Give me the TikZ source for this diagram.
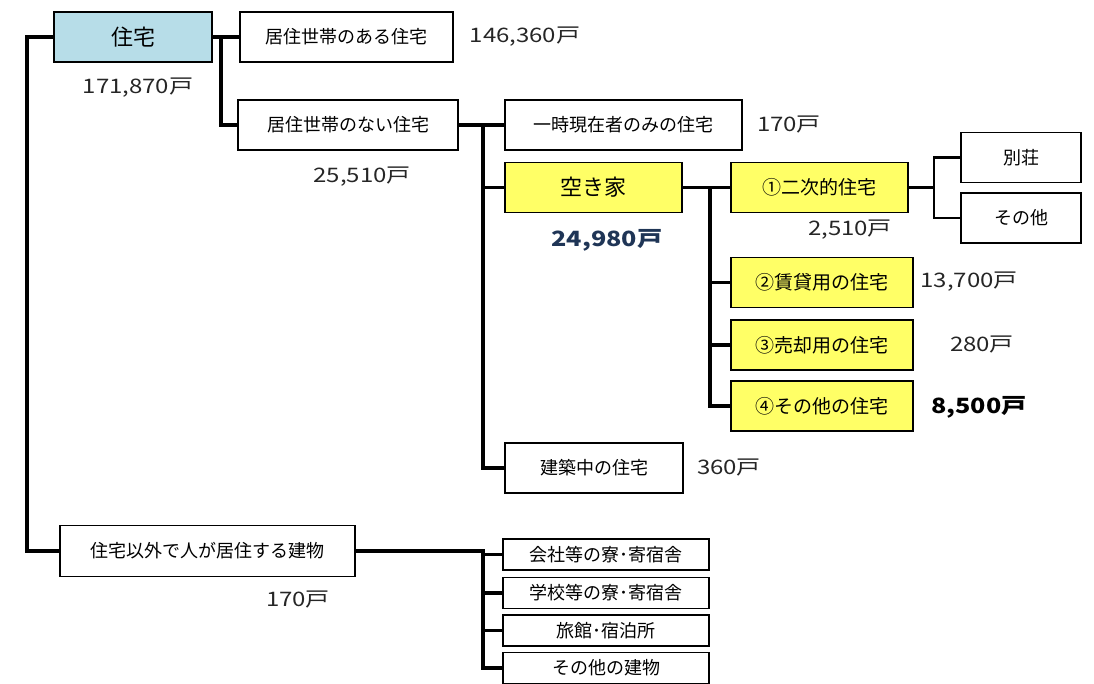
\documentclass[tikz,border=0pt]{standalone}
\usepackage{fontspec}
\setmainfont{Noto Sans CJK JP}
\newfontfamily\numfont[FakeStretch=1.2]{Noto Sans CJK JP}
\usetikzlibrary{positioning}

\definecolor{jutakublue}{HTML}{B7DDE8}
\definecolor{akiyellow}{HTML}{FFFF66}
\definecolor{akinavy}{HTML}{1F3556}

\tikzset{
  box/.style={draw, line width=1.8pt, minimum height=50pt, inner sep=0pt,
    font=\fontsize{18}{18}\selectfont},
  akibox/.style={box, fill=akiyellow, font=\fontsize{19}{19}\selectfont},
  smallbox/.style={box, minimum width=206pt, minimum height=31pt, font=\fontsize{18}{18}\selectfont},
  num/.style={inner sep=0pt, text=black!85, font=\numfont\fontsize{20}{20}\selectfont},
  boldnum/.style={num, font=\numfont\bfseries\fontsize{21}{21}\selectfont},
  trunk/.style={line width=3.6pt},
  twig/.style={line width=2.4pt}
}

\begin{document}
\begin{tikzpicture}[x=1pt,y=-1pt]
        \useasboundingbox (0,0) rectangle (1094,684);
        % houses
        \node [box, fill=jutakublue, minimum width=158pt, font=\fontsize{22}{22}\selectfont] (jutaku) at (133,37) {住宅};
        \node [num] (jutakuN) at (138,88) {171,870戸};
        \node [box, minimum width=213pt] (ari) at (346.5,37) {居住世帯のある住宅};
        \node [num] (ariN) at (525,37) {146,360戸};
        \node [box, minimum width=220pt] (nashi) at (348,125) {居住世帯のない住宅};
        \node [num] (nashiN) at (362,177) {25,510戸};
        \node [box, minimum width=237pt] (ichiji) at (623.5,125) {一時現在者のみの住宅};
        \node [num] (ichijiN) at (789,125) {170戸};
        % vacant houses
        \node [akibox, minimum width=177pt, font=\fontsize{22}{22}\selectfont] (akiya) at (593.5,187.5) {空き家};
        \node [boldnum, text=akinavy] (akiyaN) at (607,240) {24,980戸};
        \node [akibox, minimum width=177pt] (niji) at (819.5,187.5) {①二次的住宅};
        \node [num] (nijiN) at (850,230) {2,510戸};
        \node [box, minimum width=120pt] (bessou) at (1021,157.5) {別荘};
        \node [box, minimum width=120pt] (nijiSonota) at (1021,218) {その他};
        \node [akibox, minimum width=182pt] (chintai) at (822,282.5) {②賃貸用の住宅};
        \node [num] (chintaiN) at (969,282) {13,700戸};
        \node [akibox, minimum width=182pt] (baikyaku) at (822,345) {③売却用の住宅};
        \node [num] (baikyakuN) at (982,345) {280戸};
        \node [akibox, minimum width=182pt] (akiSonota) at (822,406) {④その他の住宅};
        \node [boldnum, text=black] (akiSonotaN) at (979,407) {8,500戸};
        \node [box, minimum width=178pt] (kenchiku) at (594,468) {建築中の住宅};
        \node [num] (kenchikuN) at (729,468) {360戸};
        % other buildings
        \node [box, minimum width=295pt, minimum height=51pt] (igai) at (207.5,551) {住宅以外で人が居住する建物};
        \node [num] (igaiN) at (298,600) {170戸};
        \node [smallbox] (kaisha) at (606,554.5) {会社等の寮･寄宿舎};
        \node [smallbox] (gakkou) at (606,593) {学校等の寮･寄宿舎};
        \node [smallbox] (ryokan) at (606,630.5) {旅館･宿泊所};
        \node [smallbox] (tatemono) at (606,668) {その他の建物};

        \begin{scope}[every path/.style={trunk}]
                \draw (jutaku.west) -- ++(-26,0) |- (igai.west);
                \draw (jutaku.east) -- (ari.west);
                \draw (jutaku.east) -- ++(8,0) |- (nashi.west);
                \draw (nashi.east) -- (ichiji.west);
                \draw (nashi.east) -- ++(24,0) |- (akiya.west);
                \draw (nashi.east) -- ++(24,0) |- (kenchiku.west);
                \draw (akiya.east) -- (niji.west);
                \draw (akiya.east) -- ++(27,0) |- (chintai.west);
                \draw (akiya.east) -- ++(27,0) |- (baikyaku.west);
                \draw (akiya.east) -- ++(27,0) |- (akiSonota.west);
                \draw (igai.east) -- ++(127,0) |- (kaisha.west);
                \draw (igai.east) -- ++(127,0) |- (gakkou.west);
                \draw (igai.east) -- ++(127,0) |- (ryokan.west);
                \draw (igai.east) -- ++(127,0) |- (tatemono.west);
        \end{scope}
        \begin{scope}[every path/.style={twig}]
                \draw (niji.east) -- ++(25,0) |- (bessou.west);
                \draw (niji.east) -- ++(25,0) |- (nijiSonota.west);
        \end{scope}
\end{tikzpicture}
\end{document}
